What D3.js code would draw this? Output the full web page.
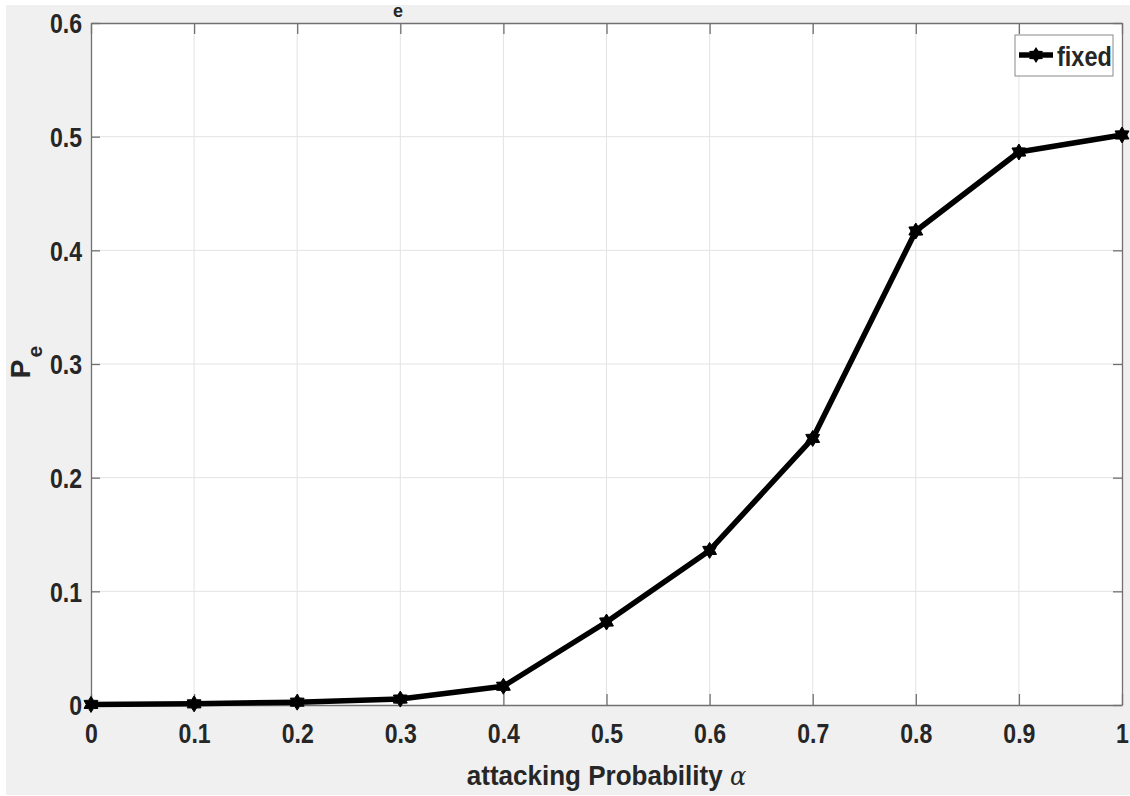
<!DOCTYPE html>
<html>
<head>
<meta charset="utf-8">
<script src="https://cdn.jsdelivr.net/npm/d3@7"></script>
<style>
  body { margin: 0; background: #fff; }
  text { font-family: "Liberation Sans Narrow", "Arial Narrow", "Liberation Sans", Arial, sans-serif; font-weight: bold; fill: #262626; }
</style>
</head>
<body>
<script>
// attacking probability alpha
const alphas = [0, 0.1, 0.2, 0.3, 0.4, 0.5, 0.6, 0.7, 0.8, 0.9, 1.0];
// P_e for the "fixed" scheme
const pe = [0.0005, 0.001, 0.0025, 0.0052, 0.0165, 0.073, 0.136, 0.2345, 0.417, 0.4865, 0.5015];
const xTicks = [0, 0.1, 0.2, 0.3, 0.4, 0.5, 0.6, 0.7, 0.8, 0.9, 1];
const yTicks = [0, 0.1, 0.2, 0.3, 0.4, 0.5, 0.6];
const seriesName = "fixed";

const W = 1130, H = 796;
const margin = { left: 91, top: 23, right: 8, bottom: 91 };
const w = W - margin.left - margin.right;
const h = H - margin.top - margin.bottom;

// the picture uses a narrow bold face; squeeze the regular one horizontally
function squeeze(sel, sx) {
  sel.each(function () {
    const t = d3.select(this);
    const tx = +t.attr("x") || 0, ty = +t.attr("y") || 0;
    t.attr("x", 0).attr("y", 0)
      .attr("transform", `translate(${tx},${ty}) scale(${sx},1)`);
  });
}

const svg = d3.select("body").append("svg")
  .attr("width", W).attr("height", H);

// figure background
svg.append("rect")
  .attr("x", 6).attr("y", 5)
  .attr("width", W - 6).attr("height", H - 6)
  .attr("fill", "#f0f0f0");

// title is cropped off; only its subscript peeks in
svg.append("text")
  .attr("x", 398).attr("y", 17)
  .attr("text-anchor", "middle")
  .style("font-size", "18px")
  .text("e");

const g = svg.append("g")
  .attr("transform", `translate(${margin.left},${margin.top})`);

const x = d3.scaleLinear().domain([0, 1]).range([0, w]);
const y = d3.scaleLinear().domain([0, 0.6]).range([h, 0]);

g.append("rect").attr("width", w).attr("height", h).attr("fill", "#fff");

// grid
g.append("g").selectAll("line").data(xTicks.slice(1, -1)).join("line")
  .attr("x1", d => x(d)).attr("x2", d => x(d))
  .attr("y1", 0).attr("y2", h)
  .attr("stroke", "#e3e3e3").attr("stroke-width", 1);
g.append("g").selectAll("line").data(yTicks.slice(1, -1)).join("line")
  .attr("y1", d => y(d)).attr("y2", d => y(d))
  .attr("x1", 0).attr("x2", w)
  .attr("stroke", "#e3e3e3").attr("stroke-width", 1);

// axes (ticks inward, MATLAB style)
const fmt = d => d === 0 ? "0" : d === 1 ? "1" : d3.format(".1f")(d);
const xAxis = g.append("g").attr("transform", `translate(0,${h})`)
  .call(d3.axisBottom(x).tickValues(xTicks).tickFormat(fmt).tickSizeInner(-11).tickSizeOuter(0).tickPadding(24));
const yAxis = g.append("g")
  .call(d3.axisLeft(y).tickValues(yTicks).tickFormat(fmt).tickSizeInner(-9).tickSizeOuter(0).tickPadding(9));
g.append("g")
  .call(d3.axisTop(x).tickValues(xTicks).tickFormat("").tickSizeInner(-11).tickSizeOuter(0));
g.append("g").attr("transform", `translate(${w},0)`)
  .call(d3.axisRight(y).tickValues(yTicks).tickFormat("").tickSizeInner(-9).tickSizeOuter(0));

g.selectAll(".domain").attr("stroke", "#707070").attr("stroke-width", 1.3);
g.selectAll(".tick line").attr("stroke", "#707070").attr("stroke-width", 1.3);
g.selectAll(".tick text").style("font-size", "27.5px").attr("fill", "#262626");
xAxis.selectAll(".tick text").attr("dy", "0.5em").call(squeeze, 0.84);
yAxis.selectAll(".tick text").attr("dy", "0.36em").call(squeeze, 0.84);

// hexagram marker
const hexagram = {
  draw(ctx, size) {
    const R = Math.sqrt(size) / 2, r = R * 0.6;
    for (let i = 0; i < 12; i++) {
      const a = -Math.PI / 2 + i * Math.PI / 6;
      const rr = i % 2 === 0 ? R : r;
      const px = rr * Math.cos(a), py = rr * Math.sin(a);
      if (i === 0) ctx.moveTo(px, py); else ctx.lineTo(px, py);
    }
    ctx.closePath();
  }
};
const marker = d3.symbol().type(hexagram).size(16 * 16);

const data = alphas.map((a, i) => ({ a, v: pe[i] }));

g.append("path").datum(data)
  .attr("fill", "none").attr("stroke", "#000").attr("stroke-width", 5.5)
  .attr("stroke-linejoin", "round")
  .attr("d", d3.line().x(d => x(d.a)).y(d => y(d.v)));

g.append("g").selectAll("path").data(data).join("path")
  .attr("transform", d => `translate(${x(d.a)},${y(d.v)})`)
  .attr("d", marker).attr("fill", "#000").attr("stroke", "#000").attr("stroke-width", 1);

// axis labels
svg.append("text")
  .attr("x", margin.left + w / 2).attr("y", 785)
  .attr("text-anchor", "middle")
  .style("font-size", "28px")
  .call(t => {
    t.append("tspan").text("attacking Probability ");
    t.append("tspan").text("α").style("font-family", "'DejaVu Serif', serif").style("font-style", "italic").style("font-weight", "normal").style("font-size", "26px");
  })
  .call(squeeze, 0.93);

svg.append("text")
  .attr("transform", `translate(30,${margin.top + h / 2 - 2}) rotate(-90)`)
  .attr("text-anchor", "middle")
  .style("font-size", "28px")
  .call(t => {
    t.append("tspan").text("P");
    t.append("tspan").text("e").attr("dy", 12).attr("dx", 2).style("font-size", "21px");
  });

// legend
const lg = g.append("g").attr("transform", `translate(${w - 107},12)`);
lg.append("rect").attr("width", 98).attr("height", 41)
  .attr("fill", "#fff").attr("stroke", "#8a8a8a").attr("stroke-width", 1);
lg.append("line").attr("x1", 4).attr("x2", 38).attr("y1", 20).attr("y2", 20)
  .attr("stroke", "#000").attr("stroke-width", 5.5);
lg.append("path").attr("transform", "translate(21,20)").attr("d", marker).attr("fill", "#000");
lg.append("text").attr("x", 42).attr("y", 31).style("font-size", "28px").attr("fill", "#000").text(seriesName)
  .call(squeeze, 0.84);
</script>
</body>
</html>
